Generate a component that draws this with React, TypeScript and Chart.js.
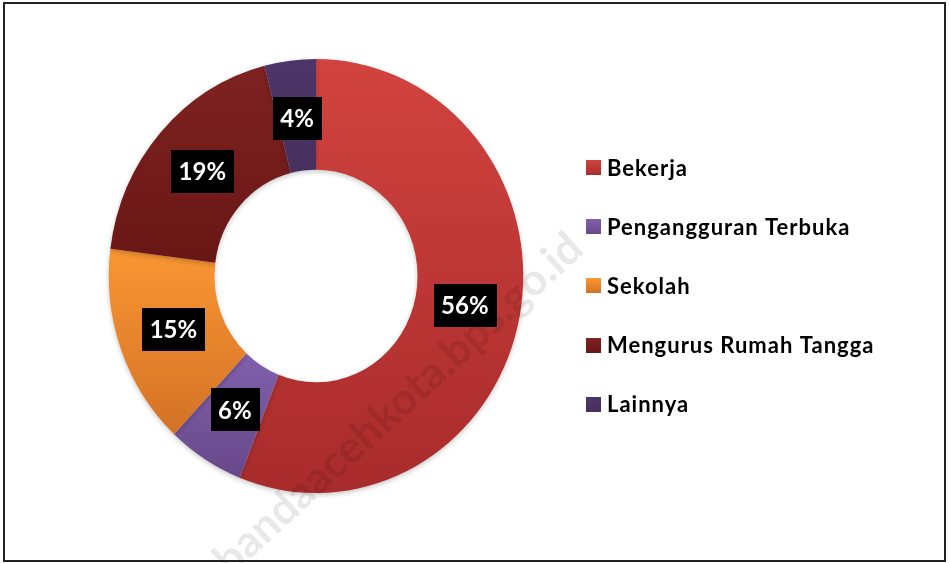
import React, { useEffect, useRef } from "react";
import { Chart, registerables } from "chart.js";

Chart.register(...registerables);

const categories = ["Bekerja", "Pengangguran Terbuka", "Sekolah", "Mengurus Rumah Tangga", "Lainnya"];
const percentages = [56, 6, 15, 19, 4];
const topColors = ["#D1433F", "#8060AC", "#FA9632", "#7E2220", "#4E3569"];
const bottomColors = ["#A82B2B", "#684889", "#D37226", "#691716", "#472F5E"];
const watermarkText = "bandaacehkota.bps.go.id";

const CUTOUT = 0.49;
const XSCALE = 0.955;
const FONT = "Lato, 'Open Sans', sans-serif";

function sliceGradient(ctx: any) {
  const chart = ctx.chart;
  const area = chart.chartArea;
  const i = ctx.dataIndex;
  if (!area || i === undefined) return topColors[i ?? 0];
  const cy = (area.top + area.bottom) / 2;
  const R = Math.min(area.right - area.left, area.bottom - area.top) / 2;
  const r = R * CUTOUT;
  const total = percentages.reduce((a, b) => a + b, 0);
  let cum = 0;
  for (let k = 0; k < i; k++) cum += percentages[k];
  const a0 = -Math.PI / 2 + (2 * Math.PI * cum) / total;
  const a1 = a0 + (2 * Math.PI * percentages[i]) / total;
  let ymin = Infinity;
  let ymax = -Infinity;
  for (let s = 0; s <= 60; s++) {
    const a = a0 + ((a1 - a0) * s) / 60;
    for (const rad of [r, R]) {
      const y = cy + rad * Math.sin(a);
      ymin = Math.min(ymin, y);
      ymax = Math.max(ymax, y);
    }
  }
  const g = chart.ctx.createLinearGradient(0, ymin, 0, ymax);
  g.addColorStop(0, topColors[i]);
  g.addColorStop(1, bottomColors[i]);
  return g;
}

const squeezePlugin = {
  id: "squeeze",
  beforeDatasetsDraw(chart: any) {
    const ctx = chart.ctx;
    const a = chart.chartArea;
    const cx = (a.left + a.right) / 2;
    ctx.save();
    ctx.translate(cx, 0);
    ctx.scale(XSCALE, 1);
    ctx.translate(-cx, 0);
    ctx.shadowColor = "rgba(0,0,0,0.22)";
    ctx.shadowBlur = 5;
    ctx.shadowOffsetY = 2;
  },
  afterDatasetsDraw(chart: any) {
    chart.ctx.restore();
  },
};

const watermarkPlugin = {
  id: "watermark",
  afterDatasetsDraw(chart: any) {
    const ctx = chart.ctx;
    ctx.save();
    ctx.translate(428, 377);
    ctx.rotate((-42.5 * Math.PI) / 180);
    ctx.font = `bold 44px ${FONT}`;
    ctx.fillStyle = "rgba(0,0,0,0.09)";
    ctx.textAlign = "center";
    ctx.textBaseline = "middle";
    ctx.fillText(watermarkText, -40, 0);
    ctx.restore();
  },
};

const labelPlugin = {
  id: "boxLabels",
  afterDatasetsDraw(chart: any) {
    const ctx = chart.ctx;
    const meta = chart.getDatasetMeta(0);
    ctx.save();
    ctx.font = `bold 24px ${FONT}`;
    ctx.textAlign = "center";
    ctx.textBaseline = "middle";
    meta.data.forEach((el: any, i: number) => {
      const { startAngle, endAngle, innerRadius, outerRadius, x, y } = el.getProps(
        ["startAngle", "endAngle", "innerRadius", "outerRadius", "x", "y"],
        true
      );
      const mid = (startAngle + endAngle) / 2;
      const rad = (innerRadius + outerRadius) / 2 - 3;
      const px = x + rad * Math.cos(mid) * XSCALE;
      const py = y + rad * Math.sin(mid);
      const text = percentages[i] + "%";
      const tw = ctx.measureText(text).width;
      const w = tw + 15;
      const h = 43;
      ctx.fillStyle = "#000000";
      ctx.fillRect(Math.round(px - w / 2), Math.round(py - h / 2), Math.round(w), h);
      ctx.fillStyle = "#FFFFFF";
      ctx.fillText(text, px, py + 1);
    });
    ctx.restore();
  },
};

const legendPlugin = {
  id: "sideLegend",
  afterDraw(chart: any) {
    const ctx = chart.ctx;
    ctx.save();
    ctx.font = `bold 22px ${FONT}`;
    (ctx as any).letterSpacing = "1px";
    ctx.textAlign = "left";
    ctx.textBaseline = "middle";
    const x0 = 586;
    const y0 = 167.5;
    const step = 59.2;
    chart.data.labels.forEach((lab: string, i: number) => {
      const cy = y0 + step * i;
      const g = ctx.createLinearGradient(0, cy - 7.5, 0, cy + 7.5);
      g.addColorStop(0, topColors[i]);
      g.addColorStop(1, bottomColors[i]);
      ctx.fillStyle = g;
      ctx.fillRect(x0, Math.round(cy - 7.5), 15, 15);
      ctx.fillStyle = "#000000";
      ctx.fillText(lab, 607, cy + 1);
    });
    ctx.restore();
  },
};

export default function App() {
  const ref = useRef<HTMLCanvasElement | null>(null);
  useEffect(() => {
    document.body.style.margin = "0";
    if (!ref.current) return;
    const chart = new Chart(ref.current, {
      type: "doughnut",
      data: {
        labels: categories,
        datasets: [
          {
            data: percentages,
            backgroundColor: sliceGradient as any,
            borderWidth: 0,
          },
        ],
      },
      options: {
        animation: false,
        responsive: false,
        maintainAspectRatio: false,
        cutout: CUTOUT * 100 + "%",
        layout: { padding: { left: 99, right: 416, top: 59, bottom: 70 } },
        plugins: {
          legend: { display: false },
          tooltip: { enabled: false },
        },
      },
      plugins: [squeezePlugin, watermarkPlugin, labelPlugin, legendPlugin],
    });
    return () => chart.destroy();
  }, []);
  return (
    <div style={{ position: "relative", width: 949, height: 563, background: "#fff" }}>
      <canvas ref={ref} width={949} height={563} style={{ position: "absolute", left: 0, top: 0 }} />
      <div
        style={{
          position: "absolute",
          left: 3,
          top: 2,
          width: 939,
          height: 556,
          border: "2px solid #222",
          pointerEvents: "none",
        }}
      />
    </div>
  );
}
